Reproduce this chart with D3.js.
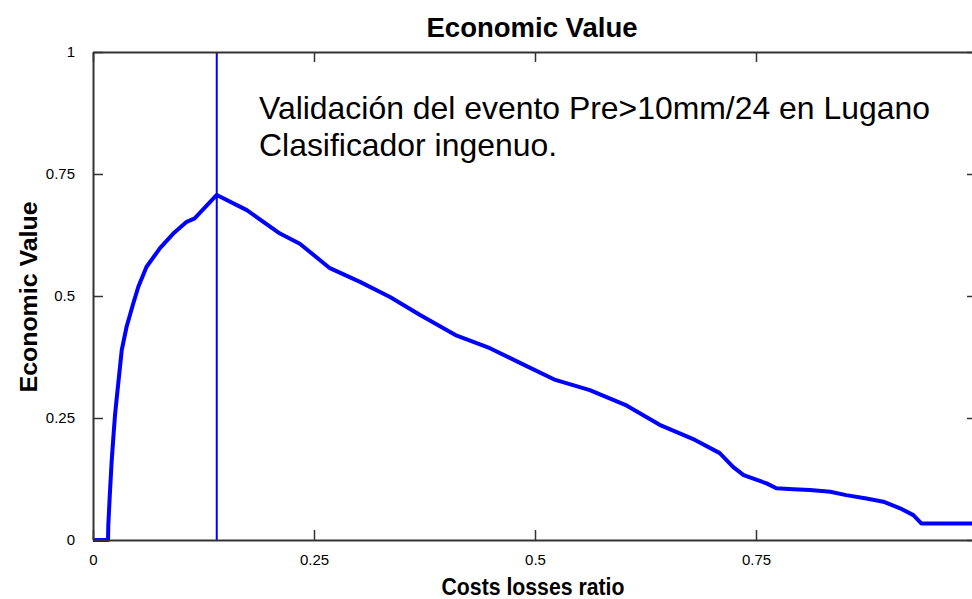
<!DOCTYPE html>
<html>
<head>
<meta charset="utf-8">
<script src="https://cdn.jsdelivr.net/npm/d3@7"></script>
<style>
  body { margin: 0; background: #fff; overflow: hidden; }
  text { font-family: "Liberation Sans", Arial, sans-serif; fill: #000; }
</style>
</head>
<body>
<script>
// economic value curve
var costRatio = [0, 0.017, 0.0173, 0.019, 0.021, 0.023, 0.0249, 0.0268, 0.0325, 0.038, 0.0456, 0.0513,
  0.0606, 0.0758, 0.0908, 0.106, 0.115, 0.140, 0.174, 0.2115, 0.234, 0.268, 0.302, 0.336, 0.37,
  0.41, 0.449, 0.483, 0.523, 0.562, 0.602, 0.641, 0.681, 0.709, 0.724, 0.736, 0.751, 0.762, 0.773,
  0.792, 0.811, 0.834, 0.852, 0.875, 0.894, 0.913, 0.928, 0.937, 1.0];
var econValue = [0, 0, 0.03, 0.092, 0.158, 0.21, 0.256, 0.29, 0.389, 0.437, 0.485, 0.519,
  0.56, 0.598, 0.628, 0.652, 0.659, 0.707, 0.676, 0.628, 0.607, 0.557, 0.529, 0.498, 0.461,
  0.42, 0.393, 0.363, 0.328, 0.307, 0.277, 0.236, 0.205, 0.178, 0.150, 0.133, 0.123, 0.116, 0.106,
  0.104, 0.1025, 0.099, 0.092, 0.085, 0.0785, 0.065, 0.051, 0.034, 0.034];
var markerX = 0.14;
var xTicks = [0, 0.25, 0.5, 0.75, 1];
var yTicks = [0, 0.25, 0.5, 0.75, 1];
var noteLines = ["Validación del evento Pre>10mm/24 en Lugano", "Clasificador ingenuo."];

var W = 972, H = 599;
var svg = d3.select("body").append("svg").attr("width", W).attr("height", H);

var x = d3.scaleLinear().domain([0, 1]).range([93, 977]);
var y = d3.scaleLinear().domain([0, 1]).range([540, 52]);

var pts = costRatio.map(function(c, i) { return [c, econValue[i]]; });

// curve
svg.append("path")
  .datum(pts)
  .attr("fill", "none")
  .attr("stroke", "#0000ff")
  .attr("stroke-width", 4)
  .attr("stroke-linejoin", "round")
  .attr("d", d3.line().x(function(d) { return x(d[0]); }).y(function(d) { return y(d[1]); }));

// vertical marker
svg.append("line")
  .attr("x1", x(markerX)).attr("x2", x(markerX))
  .attr("y1", y(0)).attr("y2", y(1))
  .attr("stroke", "#0000ff").attr("stroke-width", 2);

// axes box with inward ticks
function fmt(d) { return String(d); }
svg.append("g").attr("transform", "translate(0," + y(0) + ")")
  .call(d3.axisBottom(x).tickValues(xTicks.slice(0, 4)).tickSize(-10).tickSizeOuter(0).tickPadding(14).tickFormat(fmt));
svg.append("g").attr("transform", "translate(0," + y(1) + ")")
  .call(d3.axisTop(x).tickValues(xTicks).tickSize(-10).tickSizeOuter(0).tickFormat(""));
svg.append("g").attr("transform", "translate(" + x(0) + ",0)")
  .call(d3.axisLeft(y).tickValues(yTicks).tickSize(-10).tickSizeOuter(0).tickPadding(18).tickFormat(fmt));
svg.append("g").attr("transform", "translate(" + x(1) + ",0)")
  .call(d3.axisRight(y).tickValues(yTicks).tickSize(-10).tickSizeOuter(0).tickFormat(""));

svg.selectAll(".domain").attr("stroke", "#333").attr("stroke-width", 2);
svg.selectAll(".tick line").attr("stroke", "#333").attr("stroke-width", 1.5);
svg.selectAll(".tick text").attr("font-size", 15).attr("font-family", "'Liberation Sans', Arial, sans-serif").attr("fill", "#000");

// titles
svg.append("text").attr("x", 532).attr("y", 37).attr("text-anchor", "middle")
  .attr("font-size", 27).attr("font-weight", "bold")
  .attr("textLength", 211).attr("lengthAdjust", "spacingAndGlyphs")
  .text("Economic Value");
svg.append("text").attr("x", 533).attr("y", 595).attr("text-anchor", "middle")
  .attr("font-size", 23).attr("font-weight", "bold")
  .attr("textLength", 183).attr("lengthAdjust", "spacingAndGlyphs")
  .text("Costs losses ratio");
svg.append("text").attr("transform", "translate(37,297) rotate(-90)").attr("text-anchor", "middle")
  .attr("font-size", 23).attr("font-weight", "bold")
  .attr("textLength", 191).attr("lengthAdjust", "spacingAndGlyphs")
  .text("Economic Value");

// note
svg.append("g").attr("transform", "translate(259,0) scale(1.03,1)")
  .selectAll(".note").data(noteLines).enter().append("text")
  .attr("class", "note")
  .attr("x", 0)
  .attr("y", function(d, i) { return 119 + i * 37; })
  .attr("font-size", 31)
  .text(function(d) { return d; });
</script>
</body>
</html>
